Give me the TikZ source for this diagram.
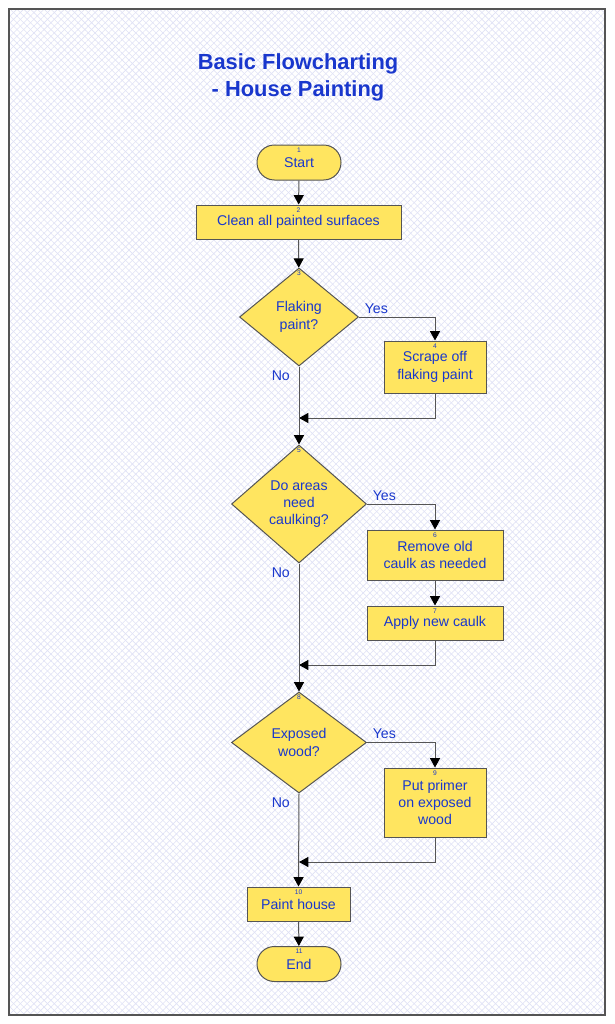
\documentclass[tikz,border=0pt]{standalone}
\usepackage{fontspec}
\setmainfont{Liberation Sans}
\usetikzlibrary{shapes.geometric,arrows.meta,patterns.meta}
\definecolor{txtblue}{RGB}{25,55,205}
\definecolor{boxfill}{RGB}{255,229,96}
\definecolor{boxline}{RGB}{85,85,85}
\definecolor{hatch}{RGB}{224,226,246}

\begin{document}
\begin{tikzpicture}[x=0.75pt,y=-0.75pt,
    every node/.style={text=txtblue, align=center, font=\fontsize{10.6}{13}\selectfont},
    box/.style={draw=boxline, fill=boxfill, line width=0.75pt, inner sep=0pt},
    process/.style={box, rectangle, minimum width=#1},
    terminal/.style={box, rectangle, rounded corners=13pt, minimum width=63pt, minimum height=26.25pt},
    decision/.style={box, diamond, minimum width=#1},
    num/.style={label={[anchor=north, inner sep=0pt, yshift=-2pt, text=txtblue, font=\fontsize{5}{6}\selectfont]north:#1}},
    flow/.style={draw=boxline, line width=0.75pt, -{Triangle[length=7pt, width=7.5pt, color=black]}},
    yeslbl/.style={anchor=base west, inner sep=0pt, xshift=4pt, yshift=3pt},
    nolbl/.style={anchor=east, inner sep=0pt, xshift=-6.5pt, yshift=-7pt}]
    \fill[white] (0,0) rectangle (614,1024);
    \useasboundingbox (0,0) rectangle (614,1024);
    \fill[pattern={Lines[angle=45, distance=3.6pt, line width=0.45pt]}, pattern color=hatch] (9,9) rectangle (605,1015);
    \fill[pattern={Lines[angle=-45, distance=3.6pt, line width=0.45pt]}, pattern color=hatch] (9,9) rectangle (605,1015);
    \draw[boxline, line width=1.1pt] (9,9) rectangle (605,1015);

    \node[font=\fontsize{16.4}{20.2}\selectfont\bfseries] (title) at (298,77.5) {Basic Flowcharting\\- House Painting};

    \node[terminal, num=1] (start) at (299,162.5) {Start};
    \node[process=153.75pt, minimum height=25.5pt, num=2] (clean) at (298.5,222) {Clean all painted surfaces};
    \node[decision=89.25pt, minimum height=73.5pt, num=3] (flaking) at (299,317) {Flaking\\paint?};
    \node[process=76.5pt, minimum height=39pt, num=4] (scrape) at (435,367) {Scrape off\\flaking paint};
    \node[decision=101.25pt, minimum height=88.5pt, num=5] (areas) at (299,504) {Do areas\\need\\caulking?};
    \node[process=102pt, minimum height=37.5pt, num=6] (remove) at (435,555) {Remove old\\caulk as needed};
    \node[process=102pt, minimum height=25.5pt, num=7] (apply) at (435,623) {Apply new caulk};
    \node[decision=101.25pt, minimum height=75.75pt, num=8] (exposed) at (299,742.5) {Exposed\\wood?};
    \node[process=76.5pt, minimum height=51.75pt, num=9] (primer) at (435,802.5) {Put primer\\on exposed\\wood};
    \node[process=77.25pt, minimum height=25.5pt, num=10] (paint) at (298.5,904) {Paint house};
    \node[terminal, num=11] (stop) at (299,964) {End};

    \coordinate (j1) at (299,418);
    \coordinate (j2) at (299,665);
    \coordinate (j3) at (299,862);

    \draw[flow] (start) -- (clean);
    \draw[flow] (clean) -- (flaking);
    \draw[flow] (flaking.east) -| node[yeslbl, pos=0] {Yes} (scrape.north);
    \draw[flow] (scrape.south) |- (j1);
    \draw[flow] (flaking.south) -- node[nolbl, pos=0] {No} (areas.north);
    \draw[flow] (areas.east) -| node[yeslbl, pos=0] {Yes} (remove.north);
    \draw[flow] (remove) -- (apply);
    \draw[flow] (apply.south) |- (j2);
    \draw[flow] (areas.south) -- node[nolbl, pos=0] {No} (exposed.north);
    \draw[flow] (exposed.east) -| node[yeslbl, pos=0] {Yes} (primer.north);
    \draw[flow] (primer.south) |- (j3);
    \draw[flow] (exposed.south) -- node[nolbl, pos=0] {No} (paint.north);
    \draw[flow] (paint) -- (stop);
\end{tikzpicture}
\end{document}
